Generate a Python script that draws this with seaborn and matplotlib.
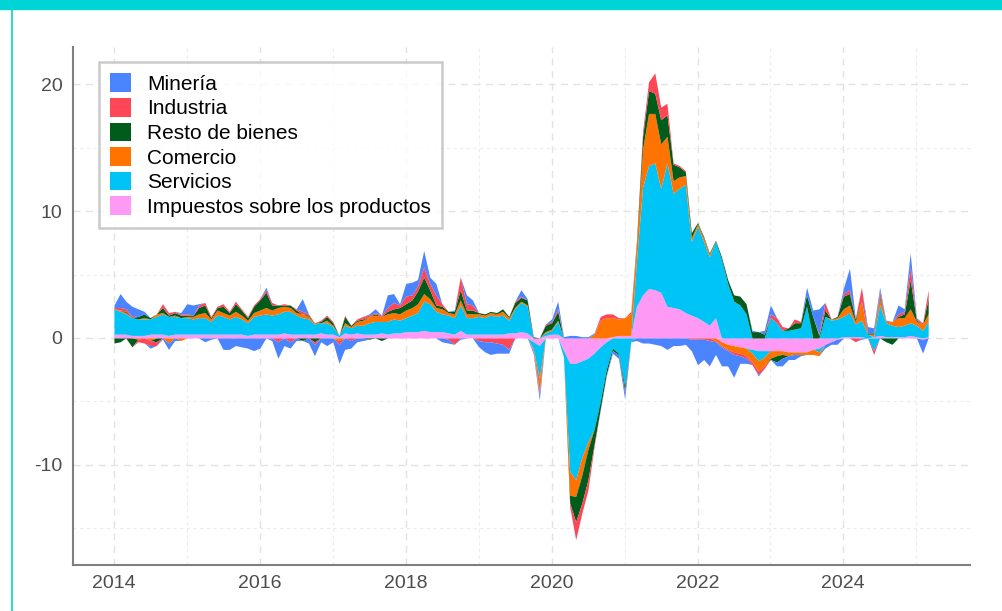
import numpy as np
import pandas as pd
import seaborn as sns
import matplotlib.pyplot as plt
import matplotlib.dates as mdates
from matplotlib.patches import Patch, Rectangle
from matplotlib.lines import Line2D

# contribuciones mensuales, 2014-01 a 2025-03
impuestos = [0.3, 0.3, 0.3, 0.2, 0.2, 0.2, 0.3, 0.3, 0.3, 0.2, 0.3, 0.3,
             0.3, 0.3, 0.3, 0.3, 0.3, 0.3, 0.3, 0.3, 0.3, 0.3, 0.2, 0.3,
             0.3, 0.3, 0.3, 0.3, 0.4, 0.3, 0.3, 0.3, 0.3, 0.3, 0.4, 0.3,
             0.3, 0.1, 0.4, 0.3, 0.4, 0.3, 0.3, 0.3, 0.4, 0.3, 0.4, 0.4,
             0.5, 0.5, 0.5, 0.6, 0.5, 0.5, 0.5, 0.4, 0.3, 0.6, 0.3, 0.3,
             0.3, 0.3, 0.3, 0.3, 0.3, 0.4, 0.4, 0.5, 0.4, -0.3, -0.6, 0.2,
             0.3, 0.3, -1.0, -2.0, -2.0, -1.8, -1.6, -1.2, -0.7, -0.3, 0.1, 0.2,
             0.2, 0.2, 2.5, 3.4, 3.9, 3.8, 3.6, 2.5, 2.4, 2.3, 2.0, 1.8,
             1.6, 1.3, 1.0, 1.6, -0.3, -0.5, -0.6, -0.7, -0.8, -0.9, -1.0, -1.0,
             -1.0, -1.0, -1.0, -1.1, -1.1, -1.1, -1.1, -0.9, -0.8, -0.5, -0.3, -0.1,
             0.1, 0.1, 0.1, 0.1, 0.0, 0.1, 0.2, 0.1, 0.1, 0.1, 0.1, 0.2,
             0.1, -0.1, 0.1]
servicios = [2.0, 1.8, 1.6, 1.4, 1.3, 1.3, 1.2, 1.4, 1.6, 1.5, 1.4, 1.3,
             1.3, 1.2, 1.3, 1.3, 1.0, 1.5, 1.4, 1.2, 1.4, 1.2, 1.0, 1.4,
             1.5, 1.6, 1.5, 1.6, 1.7, 1.8, 1.5, 1.3, 1.2, 0.8, 0.8, 0.9,
             0.6, 0.1, 0.6, 0.5, 0.6, 0.7, 0.9, 1.0, 0.9, 1.0, 1.1, 1.0,
             1.1, 1.3, 1.5, 2.3, 2.2, 1.6, 1.4, 1.4, 1.3, 2.0, 1.3, 1.3,
             1.4, 1.3, 1.5, 1.4, 1.5, 1.0, 1.9, 2.3, 2.1, -0.5, -2.6, 0.2,
             0.3, 1.0, -0.5, -8.5, -9.2, -7.6, -6.6, -6.0, -4.3, -2.2, -0.8, -1.2,
             -3.8, -0.2, 3.5, 8.5, 9.7, 10.0, 8.2, 11.3, 9.0, 9.5, 10.1, 5.8,
             7.2, 6.3, 5.4, 6.0, 6.2, 4.3, 2.9, 2.6, 1.9, -0.3, -0.8, -0.5,
             1.6, 1.2, 0.6, 0.6, 0.7, 0.8, 2.5, 0.0, -0.3, 1.7, 1.4, 1.5,
             1.6, 1.9, 1.0, 1.3, 0.3, -1.0, 2.4, 1.1, 0.9, 0.8, 0.9, 1.0,
             0.9, 0.6, 1.2]
comercio = [0.0, 0.1, 0.1, 0.0, -0.1, 0.1, -0.2, 0.2, 0.1, -0.4, 0.1, -0.2,
            0.1, 0.2, 0.3, 0.4, 0.2, 0.4, 0.3, 0.3, 0.4, 0.3, 0.2, 0.3,
            0.4, 0.5, 0.4, 0.5, 0.4, 0.3, 0.2, 0.3, 0.2, 0.1, 0.0, 0.2,
            0.1, -0.2, 0.2, 0.1, 0.3, 0.4, 0.5, 0.5, 0.4, 0.6, 0.5, 0.5,
            0.6, 0.6, 0.7, 0.6, 0.4, 0.3, 0.4, 0.2, 0.3, 0.4, 0.3, 0.3,
            0.2, 0.2, 0.2, 0.2, 0.3, 0.2, 0.1, 0.1, 0.1, -0.1, -1.0, 0.1,
            0.1, 0.1, 0.0, -1.9, -1.3, -1.4, -0.6, 0.3, 1.4, 1.6, 1.5, 1.3,
            1.4, 1.7, 1.2, 3.0, 4.1, 3.9, 3.5, 2.1, 1.0, 0.9, 0.7, 0.3,
            0.2, 0.3, 0.2, -0.2, -0.3, -0.4, -0.5, -0.5, -0.6, -0.7, -0.8, -0.7,
            -0.6, -0.4, -0.3, -0.3, -0.2, -0.2, -0.2, -0.4, -0.3, 0.0, 0.1, 0.1,
            0.6, 0.6, 0.2, 1.5, 0.0, 0.2, 0.5, 0.1, 0.3, 0.7, 0.6, 1.1,
            0.3, 0.5, 0.6]
resto = [-0.4, -0.3, 0.1, -0.7, 0.2, 0.3, 0.1, -0.3, 0.4, 0.1, 0.2, 0.2,
         0.1, 0.1, 0.5, 0.6, 0.1, 0.2, 0.5, 0.2, 0.6, 0.4, 0.2, 0.5,
         0.8, 1.2, 0.4, 0.2, 0.1, 0.2, 0.2, -0.2, 0.1, -0.3, 0.1, 0.3,
         0.2, 0.0, 0.5, 0.1, 0.1, 0.1, -0.1, 0.1, -0.2, 0.2, 0.3, 0.5,
         0.5, 0.6, 1.0, 1.3, 0.7, 0.2, 0.2, 0.1, 0.2, 0.8, 0.3, 0.3,
         0.1, 0.1, 0.1, 0.1, 0.2, 0.1, 0.4, 0.3, 0.4, 0.1, 0.0, 0.5,
         0.5, 0.7, 0.0, -0.6, -2.0, -2.2, -2.4, -1.2, -0.6, -0.4, -0.2, -0.1,
         -0.4, 0.0, 0.3, 1.0, 1.8, 1.6, 1.9, 1.7, 1.3, 0.8, 0.3, 0.4,
         0.1, 0.1, 0.1, 0.1, 0.2, 0.3, 0.5, 0.7, 0.8, 0.5, 0.5, 0.3,
         -0.1, -0.5, -0.3, 0.2, 0.5, 0.4, 0.9, 1.7, 0.2, 0.5, 0.0, 0.1,
         1.0, 0.9, 0.2, 0.0, 0.1, 0.1, 0.2, -0.3, -0.5, 0.1, 0.3, 2.3,
         0.1, 0.0, 1.2]
industria = [0.1, 0.2, 0.2, 0.1, -0.2, -0.4, -0.4, -0.3, 0.3, 0.2, 0.1, 0.1,
             0.1, 0.0, 0.2, 0.2, 0.1, 0.1, 0.2, 0.1, 0.2, 0.1, 0.1, 0.1,
             0.1, 0.2, 0.2, -0.3, 0.1, -0.3, 0.1, 0.2, 0.1, -0.2, 0.1, 0.1,
             0.1, -0.3, 0.1, -0.2, 0.1, 0.2, 0.1, 0.1, 0.1, 0.3, 0.5, 0.2,
             0.6, 0.4, 0.4, 0.8, 0.5, 0.8, 0.2, -0.1, -0.5, 1.0, 0.5, 0.4,
             -0.2, -0.3, -0.3, -0.4, -0.5, -0.9, 0.1, 0.1, 0.0, -0.1, -0.3, 0.1,
             0.1, 0.2, 0.0, -0.3, -1.4, -0.8, -0.8, -0.2, 0.3, 0.3, 0.3, 0.1,
             -0.1, 0.2, 0.1, 0.4, 0.7, 1.6, 1.0, 0.9, 0.1, 0.1, 0.1, -0.1,
             -0.1, -0.1, -0.2, -0.1, -0.1, -0.1, -0.2, -0.2, -0.2, -0.2, -0.3, -0.2,
             0.3, 0.4, 0.3, 0.0, 0.3, 0.1, 0.0, 0.0, 0.1, 0.6, 0.0, 0.0,
             0.2, 0.3, -0.3, 1.1, 0.0, -0.3, 0.4, 0.0, 0.0, 0.2, 0.2, 1.0,
             0.1, 0.1, 0.7]
mineria = [0.2, 1.1, 0.6, 0.8, 0.6, 0.2, -0.2, 0.0, -0.1, -0.5, -0.2, 0.1,
           0.8, 0.8, 0.1, -0.3, -0.1, 0.0, -0.9, -0.9, -0.6, -0.7, -0.8, -1.0,
           -0.8, 0.2, -0.2, -1.3, -0.6, -0.5, -0.2, 1.0, -0.4, -0.9, -0.3, -0.6,
           -0.3, -1.5, -0.9, -0.6, -0.3, -0.2, 0.1, 0.3, 0.0, 1.0, 0.7, 0.1,
           1.0, 1.0, 0.5, 1.3, 0.5, 0.9, -0.3, -0.3, 0.1, -0.1, 0.7, 0.4,
           -0.5, -0.8, -1.0, -0.8, -0.7, -0.3, 0.0, 0.5, 0.1, -0.2, -0.4, 0.0,
           0.2, 0.6, 0.1, 0.2, 0.2, 0.1, 0.1, 0.1, -0.1, -0.1, -0.2, -0.3,
           -0.5, -0.1, -0.2, -0.4, -0.4, -0.5, -0.6, -0.9, -0.6, -0.6, -0.5, -0.9,
           -2.0, -1.6, -2.0, -1.0, -1.5, -1.2, -1.8, -0.6, -0.4, 0.1, -0.1, 0.3,
           0.7, -0.3, -0.6, -0.3, -0.4, -0.1, 0.6, 0.5, 2.0, -0.3, -0.2, -0.4,
           0.4, 1.7, 0.1, -0.1, 0.5, 0.4, 0.3, 0.1, 0.0, 0.7, 0.2, 1.1,
           0.1, -1.1, 0.0]

nombres = ["Minería", "Industria", "Resto de bienes", "Comercio",
           "Servicios", "Impuestos sobre los productos"]
colores = ["#4a84ff", "#ff4657", "#005c1b", "#ff7300", "#00c4f6", "#ff99f6"]

fechas = pd.date_range("2014-01-01", periods=len(servicios), freq="MS")
df = pd.DataFrame({"Minería": mineria, "Industria": industria,
                   "Resto de bienes": resto, "Comercio": comercio,
                   "Servicios": servicios,
                   "Impuestos sobre los productos": impuestos}, index=fechas)

sns.set_theme(style="white")
plt.rcParams['font.family'] = ['Liberation Sans', 'DejaVu Sans']
plt.rcParams['axes.unicode_minus'] = False

fig = plt.figure(figsize=(10.03, 6.11), dpi=100)
ax = fig.add_axes([0.0728, 0.0753, 0.894, 0.848])

# apilado: impuestos junto al cero, minería por fuera
orden = nombres[::-1]
x = mdates.date2num(df.index.to_pydatetime())
pos_base = np.zeros(len(df))
neg_base = np.zeros(len(df))
for nom in orden:
    col = colores[nombres.index(nom)]
    v = df[nom].to_numpy()
    p = np.clip(v, 0, None)
    n = np.clip(v, None, 0)
    ax.fill_between(x, pos_base, pos_base + p, color=col, lw=0, zorder=3)
    ax.fill_between(x, neg_base, neg_base + n, color=col, lw=0, zorder=3)
    pos_base = pos_base + p
    neg_base = neg_base + n

ax.set_xlim(mdates.datestr2num("2013-06-10"), mdates.datestr2num("2025-09-25"))
ax.set_ylim(-17.9, 22.95)
ax.xaxis.set_major_locator(mdates.YearLocator(2))
ax.xaxis.set_minor_locator(mdates.YearLocator(1))
ax.xaxis.set_major_formatter(mdates.DateFormatter("%Y"))
ax.set_yticks([-10, 0, 10, 20])
ax.set_yticks([-15, -5, 5, 15], minor=True)

ax.grid(True, which="major", color="#e2e2e2", linestyle=(0, (5, 4)), lw=1.0, zorder=0)
ax.grid(True, which="minor", color="#ececec", linestyle=(0, (3, 3)), lw=0.8, zorder=0)

for s in ["top", "right"]:
    ax.spines[s].set_visible(False)
for s in ["left", "bottom"]:
    ax.spines[s].set_color("#7f7f7f")
    ax.spines[s].set_linewidth(1.5)
ax.tick_params(axis="both", which="both", length=0, labelsize=14,
               labelcolor="#4d4d4d", pad=7.5)
ax.set_xlabel("")
ax.set_ylabel("")

handles = [Patch(facecolor=c, edgecolor="none", label=n) for n, c in zip(nombres, colores)]
leg = ax.legend(handles=handles, loc="upper left", bbox_to_anchor=(0.029, 0.971),
                borderaxespad=0, frameon=True, fancybox=False, fontsize=15,
                handlelength=1.0, handleheight=1.0, handletextpad=0.75,
                labelspacing=0.2, borderpad=0.55)
leg.get_frame().set_edgecolor("#bdbdbd")
leg.get_frame().set_linewidth(1.8)
for t in leg.get_texts():
    t.set_color("black")

# franja y borde del marco
fig.patches.append(Rectangle((0, 1 - 9 / 611), 1, 9 / 611, transform=fig.transFigure,
                             color="#00d4d4", zorder=10))
fig.lines.append(Line2D([12 / 1003, 12 / 1003], [0, 1], transform=fig.transFigure,
                        color="#00d4d4", lw=1.2))

fig.savefig("out.png", dpi=100)
